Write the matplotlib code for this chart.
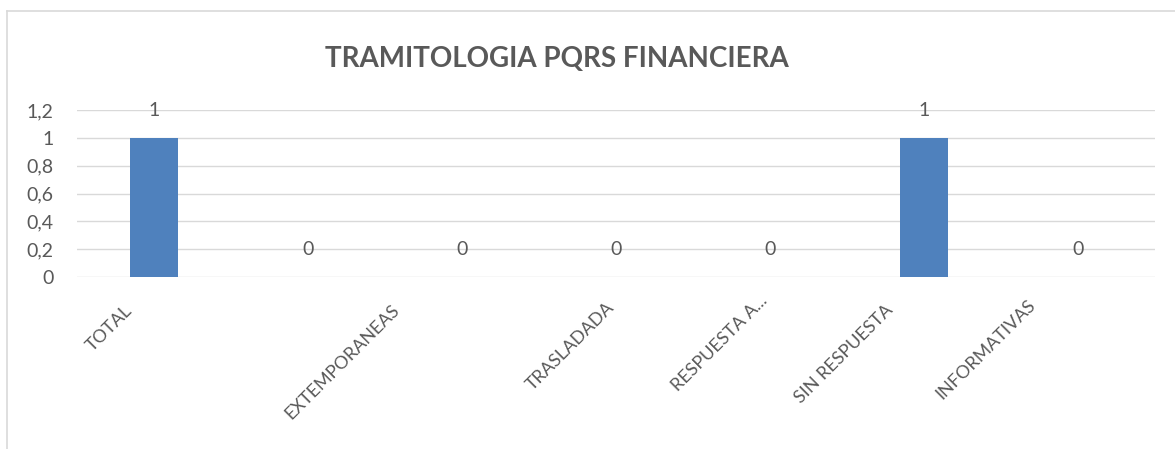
import matplotlib
matplotlib.use("Agg")
import matplotlib.pyplot as plt
from matplotlib.lines import Line2D
from matplotlib.transforms import ScaledTranslation

categories = ["TOTAL", "", "EXTEMPORANEAS", "TRASLADADA", "RESPUESTA A...", "SIN RESPUESTA", "INFORMATIVAS"]
values = [1, 0, 0, 0, 0, 1, 0]
yticks = [0, 0.2, 0.4, 0.6, 0.8, 1.0, 1.2]
ytick_labels = ["0", "0,2", "0,4", "0,6", "0,8", "1", "1,2"]
title = "TRAMITOLOGIA PQRS FINANCIERA"

# per-label pixel offsets (dx, dy down) of rotated labels, as seen in the reference
label_offsets = [(-24, 31), (0, 30), (-65, 30), (-4, 28), (-5, 21), (-34, 31), (-45, 25)]

TXT = "#595959"
GRID = "#d9d9d9"
BAR = "#4f81bd"
W, H = 1175, 449
DPI = 100

plt.rcParams['font.family'] = ['Lato', 'DejaVu Sans']

fig = plt.figure(figsize=(W / DPI, H / DPI), dpi=DPI)
fig.patch.set_facecolor("white")

left, right = 77 / W, 1155 / W
bottom, top = (H - 277) / H, (H - 110) / H
ax = fig.add_axes([left, bottom, right - left, top - bottom])

x = list(range(len(categories)))
ax.bar(x, values, width=0.31, color=BAR, zorder=3)
ax.set_xlim(-0.5, len(categories) - 0.5)
ax.set_ylim(0, 1.2)

ax.set_yticks(yticks)
ax.set_yticklabels(ytick_labels)
ax.yaxis.grid(True, color=GRID, linewidth=1.0)
ax.set_axisbelow(True)
ax.tick_params(axis='y', length=0, pad=17, labelsize=14, labelcolor=TXT)

ax.set_xticks(x)
ax.set_xticklabels(categories, rotation=45, ha='right', va='center',
                   rotation_mode='anchor', fontsize=13, color=TXT)
ax.tick_params(axis='x', length=0, pad=0)
for lab, (dx, dy) in zip(ax.get_xticklabels(), label_offsets):
    lab.set_transform(lab.get_transform() + ScaledTranslation(dx / DPI, -dy / DPI, fig.dpi_scale_trans))

for s in ax.spines.values():
    s.set_visible(False)

for xi, v in zip(x, values):
    ax.annotate(f"{v}", (xi, v), xytext=(0, 20), textcoords='offset points',
                ha='center', va='center', fontsize=14, color=TXT)

fig.text(557 / W, 1 - 67 / H, title, ha='center', va='baseline',
         fontsize=20, fontweight='bold', color=TXT)

# chart-area border (left and top visible)
fig.add_artist(Line2D([6.5 / W, 6.5 / W], [0, 1 - 10.5 / H], color=GRID, lw=1.2, transform=fig.transFigure))
fig.add_artist(Line2D([6.5 / W, 1], [1 - 10.5 / H, 1 - 10.5 / H], color=GRID, lw=1.2, transform=fig.transFigure))

fig.savefig("out.png", dpi=DPI, facecolor="white")
